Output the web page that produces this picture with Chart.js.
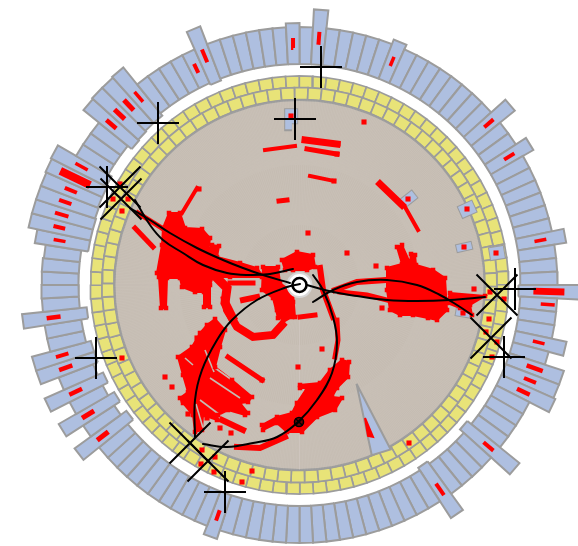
<!DOCTYPE html>
<html>
<head>
<meta charset="utf-8">
<title>Radial track chart</title>
<script src="https://cdn.jsdelivr.net/npm/chart.js@4/dist/chart.umd.min.js"></script>
<style>
  html, body { margin: 0; padding: 0; background: #fff; }
  canvas { display: block; }
</style>
</head>
<body>
<canvas id="chart" width="578" height="546"></canvas>
<script>
const centerX = 299.5;
const centerY = 285;

// outer ring, 120 sectors of 3 degrees, clockwise from north
const barStart = [
  221,221,221,221,221,221,221,221,221,221,221,221,221,221,221,221,221,221,221,221,
  221,221,221,221,221,221,221,221,221,221,219,221,221,221,221,221,221,221,221,221,
  221,221,221,216,221,221,221,221,218,221,221,221,221,221,221,221,221,221,221,221,
  221,221,221,221,221,221,221,221,221,221,221,221,221,221,221,221,221,214,221,214,
  221,215,221,216,216,221,221,214,221,221,221,221,221,214,214,214,215,216,216,217,
  221,221,221,216,217,218,218,221,221,221,221,221,219,221,221,221,221,221,221,221
];
const barEnd = [
  258,276,258,258,258,258,258,263,258,258,258,258,258,258,258,258,277,258,258,270,
  258,258,258,258,258,258,270,258,258,258,290,258,258,258,273,258,278,278,280,258,
  258,258,258,283,258,258,258,258,278,258,258,258,258,258,258,258,258,258,258,258,
  258,258,258,258,258,258,267,258,258,258,258,258,258,258,258,258,258,278,258,278,
  258,279,258,277,277,258,258,279,258,258,258,258,257,268,277,277,277,277,278,279,
  258,258,258,278,279,279,280,258,258,258,258,258,277,258,258,258,258,258,258,262
];
const markIndex = [1,7,16,19,26,30,31,34,36,37,38,43,48,66,77,79,81,83,84,87,93,94,95,96,97,98,99,103,104,105,106,111,112,119];
const markFrom  = [241,237,243,240,239,234,242,240,241,243,241,242,241,239,241,241,241,241,241,241,238,241,241,242,241,232,241,241,241,241,241,235,241,237];
const markTo    = [254,247,255,252,251,265,256,252,258,256,255,255,255,250,255,255,255,255,254,255,250,253,255,255,254,265,255,254,255,255,254,245,255,247];
const markWidth = [4,3.5,4,4,3.5,7,3.5,3.5,4.5,4,4.5,4,4,4,5,5,4.5,4.5,4,4.5,3.5,4,4,4,4,8,3.5,4.5,5,5,3.5,4,4,4];

// small boxes inside the disc
const boxAngle = [357.3,51.7,65.7,77,80.8,99.7];
const boxRadius = [169,139,184,169,200,166];
const boxLength = [14,15,15,15,14,14];
const boxWidth = [12,9,12,7,12,7];
const wedgeAngle = [150,151,157];
const wedgeRadius = [114,188,185];

// red returns, read in plot units
const redPatches = [
  [[169,213],[180,213],[185,228],[202,229],[210,238],[208,253],[212,245],[219,246],[217,257],[240,263],[257,268],[262,275],[262,277],[230,277],[213,277],[210,285],[210,307],[204,307],[204,292],[195,292],[182,287],[180,278],[167,278],[166,308],[161,308],[159,277],[157,273],[162,245],[163,228]],
  [[263,267],[278,267],[280,283],[293,293],[295,317],[278,318],[273,298],[262,290]],
  [[282,260],[297,252],[313,255],[315,267],[307,270],[293,270],[285,270]],
  [[277,310],[287,300],[293,302],[292,317],[283,322]],
  [[215,319],[225,330],[220,347],[215,367],[232,380],[252,397],[248,402],[240,403],[248,413],[245,415],[228,410],[218,415],[217,420],[203,415],[202,430],[195,432],[193,415],[183,403],[180,398],[188,392],[183,375],[178,357],[192,347],[200,333],[207,325]],
  [[342,360],[349,362],[348,377],[337,388],[332,397],[342,398],[335,410],[317,417],[302,432],[287,432],[277,423],[263,430],[262,425],[277,417],[292,413],[297,403],[307,388],[300,388],[300,385],[320,383],[330,370]],
  [[387,268],[402,264],[397,247],[402,245],[410,263],[411,254],[415,255],[416,265],[433,270],[445,278],[447,310],[437,320],[428,318],[413,315],[400,315],[390,310],[387,290]],
  [[450,293],[485,296],[470,305],[472,315],[460,308],[447,303]],
  [[365,418],[373,437],[368,436]]
];
const redTracks = [
  { width: 4, points: [[197,188],[182,213]] },
  { width: 5, points: [[135,228],[153,247]] },
  { width: 5, points: [[138,213],[165,230]] },
  { width: 8, points: [[225,300],[227,310],[237,327],[253,337],[273,335],[282,325]] },
  { width: 9, points: [[217,278],[227,288],[225,303],[232,317]] },
  { width: 5, points: [[230,283],[253,283]] },
  { width: 6, points: [[243,300],[257,297]] },
  { width: 5, points: [[300,317],[315,315]] },
  { width: 5, points: [[228,357],[262,380]] },
  { width: 6, points: [[222,420],[243,430]] },
  { width: 5, points: [[337,320],[338,340],[335,357]] },
  { width: 6, points: [[237,447],[260,448],[285,437]] },
  { width: 6, points: [[335,290],[357,282],[387,280]] },
  { width: 5, points: [[340,292],[367,295],[387,300]] },
  { width: 6, points: [[320,268],[323,290],[333,317]] },
  { width: 4, points: [[265,150],[295,146]] },
  { width: 7, points: [[305,140],[337,144]] },
  { width: 5, points: [[307,149],[337,154]] },
  { width: 4, points: [[310,176],[334,181]] },
  { width: 7, points: [[380,184],[402,205]] },
  { width: 4, points: [[405,207],[418,230]] },
  { width: 5, points: [[279,201],[287,200]] }
];
const redSquares = [
  [199,189],[308,233],[165,377],[172,387],[183,400],[188,414],[197,338],[207,418],[220,428],[231,433],[198,427],
  [322,349],[298,367],[207,303],[347,253],[376,266],[382,308],[474,289],[364,122],[338,144],[337,154],[334,181],[262,380],
  [113,199],[128,199],[122,211],[120,184],[122,358],[202,450],[215,457],[201,464],[214,472],[252,471],[242,482],
  [409,443],[489,319],[490,292],[504,299],[486,332],[497,342],[492,357],
  [291,116],[408,199],[467,209],[464,247],[496,253],[463,313]
];
const clearSlits = [
  [[215,368],[232,380]],
  [[210,378],[240,398]],
  [[200,400],[220,415]],
  [[185,358],[193,365]],
  [[205,350],[214,372]],
  [[196,404],[203,428]]
];

// black tracks and site marks
const blackCurves = [
  [[130,208],[150,220],[170,233],[197,248],[223,260],[243,268],[263,275],[290,283]],
  [[135,200],[150,225],[163,240],[183,253],[203,265],[227,273],[247,275],[270,274],[293,269]],
  [[195,437],[195,400],[202,370],[217,340],[232,320],[257,300],[287,287],[300,284]],
  [[203,444],[227,447],[253,443],[277,437],[298,422],[317,400],[332,373],[337,343],[333,317],[323,290],[313,275]],
  [[313,302],[333,290],[357,282],[387,280],[417,285],[440,295],[457,305],[472,315]],
  [[307,285],[333,292],[357,296],[387,300],[417,301],[450,300],[485,297]]
];
const plusSites = [[321,67],[158,123],[295,119],[107,187],[96,358],[225,492],[515,289],[504,357]];
const crossSites = [[120,187],[121,199],[190,443],[208,461],[497,295],[491,338]];
const ringSite = [[299,422]];

const blue = '#aebfe0', grey = '#9c9c9c', yellow = '#e8e378', tan = '#c5bcb2', red = '#ff0000';

function polar(angle, radius) {
  const a = angle * Math.PI / 180;
  return { x: centerX + radius * Math.sin(a), y: centerY - radius * Math.cos(a) };
}
function pts(list) {
  return list.map(p => ({ x: p[0], y: p[1] }));
}
// radial strokes in one path, broken by empty points
function strokes(items) {
  const out = [];
  items.forEach(s => {
    out.push(polar(s[0], s[1]), polar(s[0], s[2]), { x: NaN, y: NaN });
  });
  return out;
}
function lineSet(data, color, width, extra) {
  return Object.assign({
    data, showLine: true, borderColor: color, borderWidth: width, pointRadius: 0,
    borderCapStyle: 'butt', borderJoinStyle: 'miter', tension: 0, fill: false, spanGaps: false
  }, extra || {});
}
function pointSet(data, style, radius, color, width, fillColor) {
  return {
    data, showLine: false, pointStyle: style, pointRadius: radius, pointBorderColor: color,
    pointBorderWidth: width, pointBackgroundColor: fillColor || color
  };
}
function sector(angle, half, from, to, fillColor, width) {
  const c = [polar(angle - half, from), polar(angle - half, to), polar(angle + half, to), polar(angle + half, from)];
  c.push(c[0]);
  return lineSet(c, grey, width, { fill: 'shape', backgroundColor: fillColor });
}

const outerYellow = [], innerYellow = [], spokes = [];
for (let i = 0; i < 96; i++) outerYellow.push(1.8 + 3.75 * i);
for (let i = 0; i < 90; i++) innerYellow.push(0.5 + 4 * i);
// disc texture: fewer spokes further in, so it doesn't bunch up at the middle
for (let i = 0; i < 720; i++) {
  const from = i % 4 === 0 ? 30 : (i % 2 === 0 ? 60 : 120);
  spokes.push([i / 2, from, 185]);
}

const boxes = boxAngle.map((a, i) => [a, boxRadius[i] - boxLength[i] / 2, boxRadius[i] + boxLength[i] / 2]);
const wedge = wedgeAngle.map((a, i) => polar(a, wedgeRadius[i]));
wedge.push(wedge[0]);

// listed bottom to top, reversed at the end because chart.js paints the first dataset last
const layers = [];
barEnd.forEach((end, i) => layers.push(sector(1.5 + 3 * i, 1.5, barStart[i], end, blue, 2)));
outerYellow.forEach(a => layers.push(sector(a, 1.875, 197.5, 209, yellow, 1.7)));
innerYellow.forEach(a => layers.push(sector(a, 2, 185.5, 197.5, yellow, 1.7)));
layers.push(pointSet([{ x: centerX, y: centerY }], 'circle', 185, grey, 2, tan));
layers.push(lineSet(strokes(spokes), 'rgba(255,255,255,0.12)', 0.5));
boxAngle.forEach((a, i) => {
  layers.push(lineSet(strokes([[a, boxRadius[i] - boxLength[i] / 2 - 1, boxRadius[i] + boxLength[i] / 2 + 1]]), grey, boxWidth[i] + 2));
  layers.push(lineSet(strokes([boxes[i]]), blue, boxWidth[i]));
});
layers.push(lineSet(wedge, grey, 2, { fill: 'shape', backgroundColor: blue }));
markIndex.forEach((k, i) => {
  layers.push(lineSet(strokes([[1.5 + 3 * k, markFrom[i], markTo[i]]]), red, markWidth[i]));
});
redPatches.forEach(p => {
  layers.push(lineSet(pts(p.concat([p[0]])), red, 2, { fill: 'shape', backgroundColor: red }));
});
redTracks.forEach(t => layers.push(lineSet(pts(t.points), red, t.width, { borderCapStyle: 'square' })));
clearSlits.forEach(s => layers.push(lineSet(pts(s), tan, 1.6)));
// blocky edge: a square on each outline corner
layers.push(pointSet(pts(redPatches.slice(0, 8).flat()), 'rect', 3.2, red, 0));
layers.push(pointSet(pts(redSquares), 'rect', 3.6, red, 0));
layers.push(pointSet([{ x: centerX, y: centerY }], 'circle', 12, '#d8d8d8', 2, '#ffffff'));
layers.push(pointSet([{ x: centerX, y: centerY }], 'circle', 7, '#000000', 2.6, '#ffffff'));
blackCurves.forEach(c => layers.push(lineSet(pts(c), '#000000', 2, { tension: 0.4, borderCapStyle: 'round' })));
layers.push(pointSet(pts(plusSites), 'cross', 21, '#000000', 2));
layers.push(pointSet(pts(crossSites), 'crossRot', 29, '#000000', 2));
layers.push(pointSet(pts(ringSite), 'circle', 4.5, '#000000', 1.6, 'rgba(0,0,0,0.55)'));
layers.push(pointSet(pts(ringSite), 'crossRot', 5, '#000000', 1.4));

new Chart(document.getElementById('chart'), {
  type: 'scatter',
  data: { datasets: layers.reverse() },
  options: {
    responsive: false,
    animation: false,
    events: [],
    layout: { padding: 0, autoPadding: false },
    plugins: { legend: { display: false }, tooltip: { enabled: false } },
    scales: {
      x: { type: 'linear', display: false, min: 0, max: 578 },
      y: { type: 'linear', display: false, min: 0, max: 546, reverse: true }
    }
  }
});
</script>
</body>
</html>
